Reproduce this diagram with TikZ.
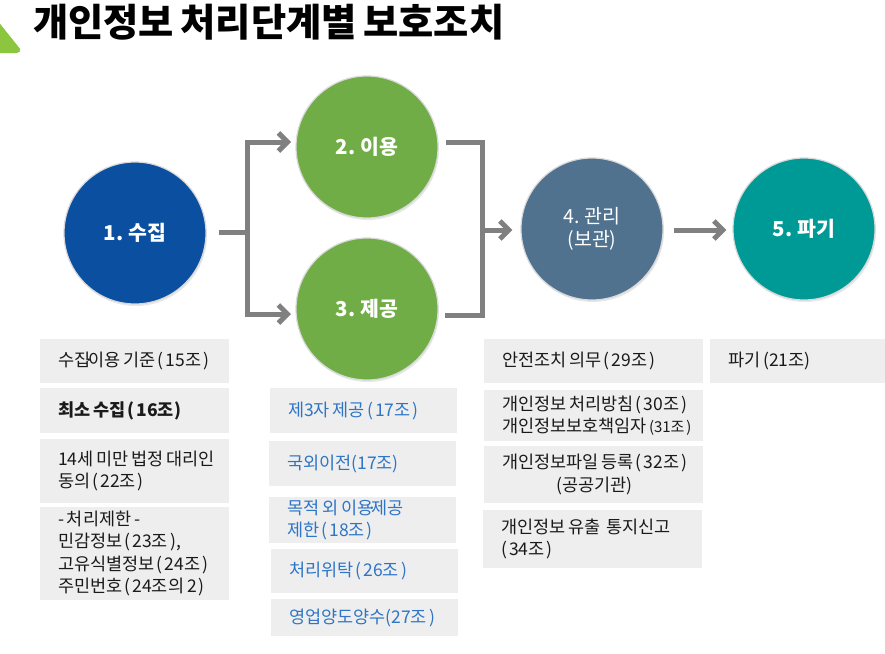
\documentclass[tikz,border=0pt]{standalone}
\usepackage{fontspec}
\setmainfont{Noto Sans CJK KR}[WordSpace=0.75]
\usetikzlibrary{arrows.meta,shadows}
\definecolor{bluec}{HTML}{0A4FA0}
\definecolor{greenc}{HTML}{70AD47}
\definecolor{slatec}{HTML}{50728F}
\definecolor{tealc}{HTML}{009A96}
\definecolor{boxgray}{HTML}{EEEEEE}
\definecolor{conngray}{HTML}{808080}
\definecolor{bluetxt}{HTML}{2E75C6}
\definecolor{trigreen}{HTML}{8CC63F}
\definecolor{txt}{HTML}{1A1A1A}
\tikzset{
  stage/.style={circle, minimum size=142pt, inner sep=0pt, draw=white!85!black, line width=1.2pt,
    text=white, align=center, font=\fontsize{20.5}{24}\selectfont\bfseries,
    drop shadow={opacity=0.18, shadow xshift=1pt, shadow yshift=-2pt}},
  infobox/.style={rectangle, fill=boxgray, inner sep=0pt},
  boxtext/.style={anchor=west, inner sep=0pt, align=left, text=txt,
    font=\fontsize{17.5}{22.5}\selectfont},
  bluetext/.style={boxtext, text=bluetxt},
  conn/.style={draw=conngray, line width=5pt},
  arrowc/.style={conn, -{Straight Barb[length=9pt,width=18pt]}},
}
\newcommand{\tsp}{\hspace{0.12em}}
\newcommand{\mdt}{\kern-0.33em·\kern-0.33em}
\begin{document}
\begin{tikzpicture}[x=1pt,y=-1pt]
\useasboundingbox (0,0) rectangle (885,653);
% title
\fill[trigreen, rounded corners=2pt] (-3,20) -- (21,50) -- (19,53) -- (-3,53) -- cycle;
\node[anchor=west, font=\fontsize{38.3}{41}\selectfont\bfseries, text=black, inner sep=0pt] (title) at (33,22) {개인정보 처리단계별 보호조치};
% circles
\node[stage, fill=bluec] (n1) at (135,233) {1. 수집};
\node[stage, fill=greenc] (n2) at (367,147) {2. 이용};
\node[stage, fill=greenc] (n3) at (367,309) {3. 제공};
\node[stage, fill=slatec, font=\fontsize{19.5}{23.5}\selectfont] (n4) at (592,229) {4. 관리\\(보관)};
\node[stage, fill=tealc] (n5) at (804,229) {5. 파기};
% connectors
\coordinate (j1) at (247,232);
\coordinate (u2) at (291,142);
\coordinate (u3) at (291,314);
\coordinate (j2) at (482,230);
\coordinate (v2) at (446,142);
\coordinate (v3) at (445,315);
\draw[conn] ([xshift=12pt]n1.east |- j1) -- (j1);
\draw[arrowc] (j1) |- (u2);
\draw[arrowc] (j1) |- (u3);
\draw[conn] (v2) -| (j2);
\draw[conn] (v3) -| (j2);
\draw[arrowc, shorten >=8pt] (j2) -- (n4.west |- j2);
\draw[arrowc, shorten <=10pt, shorten >=6pt] (n4.east |- j2) -- (n5.west |- j2);
% column 1
\node[infobox, minimum width=189pt, minimum height=44pt] (a1) at (134.5,361) {};
\node[boxtext] (a1t) at ([xshift=18pt]a1.west) {수집\mdt 이용 기준\tsp(\tsp15조\tsp)};
\node[infobox, minimum width=189pt, minimum height=45pt] (a2) at (134.5,410.5) {};
\node[boxtext, font=\fontsize{17.5}{22.5}\selectfont\bfseries] (a2t) at ([xshift=18pt]a2.west) {최소 수집\tsp(\tsp16조)};
\node[infobox, minimum width=189pt, minimum height=64pt] (a3) at (134.5,471) {};
\node[boxtext] (a3t) at ([xshift=18pt]a3.west) {14세 미만 법정 대리인\\동의\tsp(\tsp22조\tsp)};
\node[infobox, minimum width=189pt, minimum height=93pt] (a4) at (134.5,553.5) {};
\node[boxtext] (a4t) at ([xshift=18pt]a4.west) {- 처리제한 -\\민감정보\tsp(\tsp23조\tsp),\\고유식별정보\tsp(\tsp24조\tsp)\\주민번호\tsp(\tsp24조의 2\tsp)};
% column 2
\node[infobox, minimum width=187pt, minimum height=45pt] (b1) at (363.5,410.5) {};
\node[bluetext] (b1t) at ([xshift=18pt]b1.west) {제3자 제공\tsp(\tsp17조\tsp)};
\node[infobox, minimum width=187pt, minimum height=45pt] (b2) at (362.5,463.5) {};
\node[bluetext] (b2t) at ([xshift=18pt]b2.west) {국외이전(17조)};
\node[infobox, minimum width=187pt, minimum height=46pt] (b3) at (362.5,520) {};
\node[bluetext, font=\fontsize{17.5}{22}\selectfont] (b3t) at ([xshift=18pt]b3.west) {목적 외 이용\mdt 제공\\제한\tsp(\tsp18조\tsp)};
\node[infobox, minimum width=187pt, minimum height=44pt] (b4) at (364.5,571) {};
\node[bluetext] (b4t) at ([xshift=18pt]b4.west) {처리위탁\tsp(\tsp26조\tsp)};
\node[infobox, minimum width=187pt, minimum height=37pt] (b5) at (364.5,617.5) {};
\node[bluetext] (b5t) at ([xshift=18pt]b5.west) {영업양도양수(27조\tsp)};
% column 3
\node[infobox, minimum width=219pt, minimum height=44pt] (c1) at (593.5,361) {};
\node[boxtext] (c1t) at ([xshift=18pt]c1.west) {안전조치 의무\tsp(\tsp29조\tsp)};
\node[infobox, minimum width=219pt, minimum height=51pt] (c2) at (593.5,415.5) {};
\node[boxtext, font=\fontsize{17.5}{21.5}\selectfont] (c2t) at ([xshift=18pt]c2.west) {개인정보 처리방침\tsp(\tsp30조\tsp)\\개인정보보호책임자\tsp{\fontsize{15}{21}\selectfont(31조\tsp)}};
\node[infobox, minimum width=219pt, minimum height=57pt] (c3) at (593.5,474.5) {};
\node[boxtext, align=center, font=\fontsize{17.5}{22.5}\selectfont] (c3t) at ([xshift=18pt]c3.west) {개인정보파일 등록\tsp(\tsp32조\tsp)\\(공공기관)};
\node[infobox, minimum width=219pt, minimum height=58pt] (c4) at (592.5,539) {};
\node[boxtext] (c4t) at ([xshift=18pt]c4.west) {개인정보 유출~ 통지신고\\(\tsp34조\tsp)};
% column 4
\node[infobox, minimum width=175pt, minimum height=44pt] (d1) at (797.5,361) {};
\node[boxtext] (d1t) at ([xshift=18pt]d1.west) {파기 (21조)};
\end{tikzpicture}
\end{document}
